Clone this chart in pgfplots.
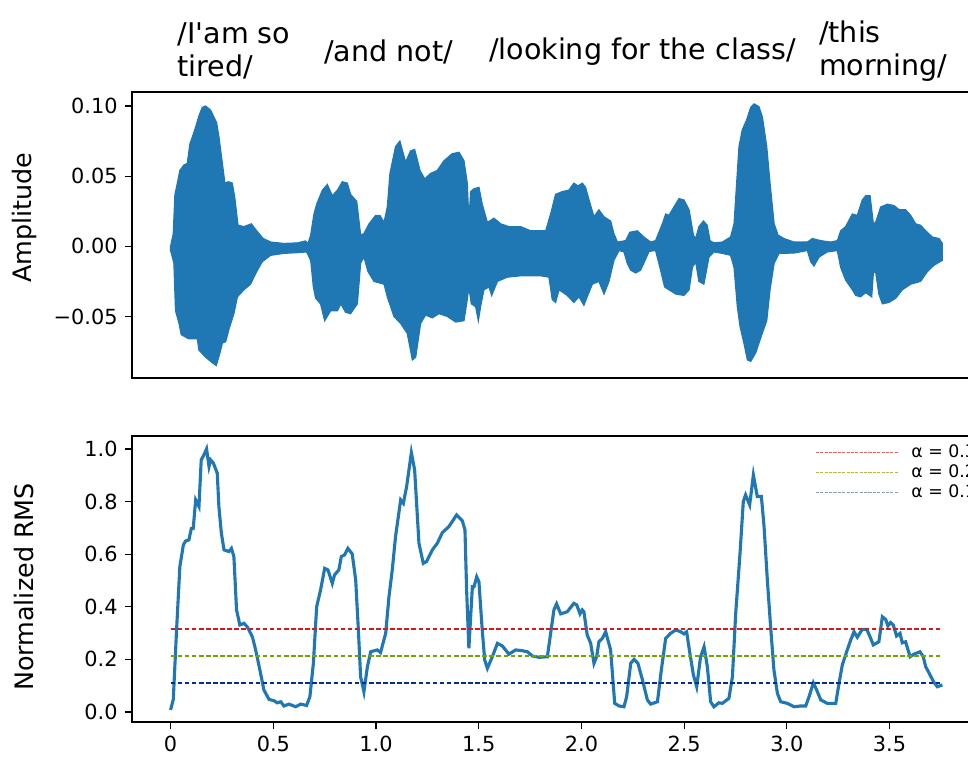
\documentclass[border=0pt]{standalone}
\usepackage{fontspec}
\setmainfont{DejaVu Sans}
\newfontfamily\plainfont{DejaVu Sans}
\usepackage{pgfplots}
\pgfplotsset{compat=1.18}
\usepgfplotslibrary{fillbetween}

\definecolor{wave}{HTML}{1F77B4}
\definecolor{thrR}{RGB}{215,25,25}
\definecolor{thrG}{RGB}{115,165,0}
\definecolor{thrB}{RGB}{0,45,150}
\definecolor{legR}{RGB}{232,95,95}
\definecolor{legG}{RGB}{180,185,60}
\definecolor{legB}{RGB}{140,158,170}

\pgfplotsset{
  panel/.style={
    scale only axis, width=407.5pt, height=137.28pt,
    anchor=south west,
    xmin=-0.188, xmax=3.945,
    axis line style={line width=0.6pt},
    tick align=outside, tick pos=left,
    major tick length=3.4pt,
    every tick/.style={black, line width=0.6pt},
    tick label style={font=\fontsize{10}{12}\selectfont},
    every axis y label/.style={rotate=90, anchor=center,
      font=\fontsize{12.2}{14}\selectfont},
  },
  thr/.style={line width=0.7pt, dash pattern=on 2.2pt off 1.2pt, forget plot},
}

\begin{document}
\begin{tikzpicture}

% waveform (envelope of the signal)
\begin{axis}[panel, at={(63.36pt,183.36pt)},
  ymin=-0.0939, ymax=0.110,
  xtick=\empty,
  ytick={-0.05,0,0.05,0.10},
  yticklabels={−0.05,0.00,0.05,0.10},
  ylabel={Amplitude},
  ylabel style={at={(axis description cs:-0.127,0.561)}},
  clip=false,
]
\addplot[name path=up, draw=none] table {
0 0
0.013 0.009
0.021 0.037
0.033 0.045
0.045 0.054
0.065 0.058
0.081 0.059
0.094 0.073
0.106 0.078
0.122 0.085
0.138 0.093
0.154 0.099
0.170 0.100
0.195 0.097
0.224 0.088
0.235 0.078
0.252 0.059
0.264 0.045
0.281 0.046
0.300 0.045
0.312 0.035
0.328 0.015
0.357 0.014
0.393 0.016
0.419 0.011
0.451 0.0055
0.487 0.003
0.552 0.002
0.617 0.0024
0.657 0.0038
0.669 0.002
0.682 0.008
0.698 0.023
0.711 0.030
0.739 0.040
0.763 0.044
0.787 0.036
0.812 0.040
0.836 0.046
0.860 0.045
0.876 0.037
0.906 0.032
0.925 0.008
0.941 0.009
0.966 0.016
0.998 0.022
1.019 0.022
1.039 0.017
1.055 0.028
1.068 0.052
1.095 0.071
1.116 0.075
1.144 0.060
1.168 0.068
1.188 0.069
1.214 0.054
1.237 0.048
1.266 0.052
1.298 0.054
1.331 0.061
1.371 0.066
1.404 0.067
1.428 0.061
1.444 0.045
1.452 0.018
1.461 0.039
1.477 0.041
1.501 0.042
1.517 0.030
1.542 0.017
1.574 0.020
1.607 0.016
1.647 0.014
1.704 0.014
1.753 0.011
1.801 0.011
1.826 0.011
1.850 0.023
1.874 0.037
1.907 0.039
1.939 0.040
1.963 0.045
1.983 0.043
2.004 0.045
2.020 0.042
2.037 0.033
2.061 0.021
2.085 0.026
2.110 0.021
2.142 0.018
2.158 0.009
2.175 0.003
2.215 0.004
2.236 0.010
2.272 0.011
2.304 0.0066
2.337 0.003
2.361 0.004
2.394 0.016
2.410 0.023
2.426 0.022
2.450 0.028
2.475 0.034
2.499 0.033
2.524 0.026
2.545 0.008
2.556 0.0055
2.572 0.014
2.594 0.018
2.612 0.015
2.626 0.004
2.645 0.0024
2.686 0.003
2.726 0.0066
2.743 0.016
2.767 0.071
2.783 0.083
2.804 0.090
2.824 0.099
2.840 0.1015
2.864 0.0996
2.881 0.092
2.902 0.071
2.918 0.045
2.938 0.016
2.957 0.008
2.986 0.0055
3.035 0.003
3.100 0.003
3.124 0.0055
3.165 0.004
3.213 0.003
3.246 0.004
3.262 0.011
3.286 0.014
3.319 0.023
3.343 0.022
3.367 0.033
3.384 0.036
3.405 0.036
3.421 0.016
3.432 0.017
3.457 0.028
3.489 0.030
3.522 0.029
3.547 0.026
3.578 0.026
3.603 0.022
3.627 0.016
3.651 0.015
3.676 0.011
3.708 0.0066
3.741 0.0055
3.757 0.002
};
\addplot[name path=lo, draw=none] table {
0 -0.003
0.016 -0.012
0.024 -0.046
0.041 -0.055
0.052 -0.063
0.089 -0.066
0.130 -0.066
0.138 -0.074
0.170 -0.079
0.203 -0.083
0.222 -0.085
0.240 -0.076
0.252 -0.069
0.268 -0.068
0.284 -0.059
0.308 -0.048
0.325 -0.036
0.357 -0.031
0.389 -0.027
0.419 -0.018
0.446 -0.011
0.487 -0.0064
0.552 -0.005
0.617 -0.0045
0.662 -0.004
0.682 -0.010
0.695 -0.029
0.706 -0.037
0.730 -0.041
0.750 -0.053
0.779 -0.046
0.812 -0.046
0.828 -0.041
0.852 -0.047
0.876 -0.048
0.909 -0.041
0.925 -0.012
0.941 -0.0076
0.961 -0.018
0.990 -0.025
1.039 -0.027
1.055 -0.036
1.087 -0.050
1.120 -0.055
1.152 -0.062
1.177 -0.081
1.193 -0.079
1.217 -0.055
1.241 -0.049
1.274 -0.051
1.306 -0.048
1.347 -0.050
1.388 -0.054
1.428 -0.053
1.441 -0.041
1.452 -0.029
1.464 -0.041
1.485 -0.043
1.498 -0.053
1.509 -0.043
1.525 -0.031
1.550 -0.029
1.563 -0.035
1.591 -0.025
1.639 -0.022
1.704 -0.021
1.769 -0.021
1.801 -0.021
1.842 -0.022
1.858 -0.038
1.874 -0.040
1.891 -0.031
1.931 -0.035
1.963 -0.040
1.988 -0.036
2.012 -0.042
2.028 -0.036
2.053 -0.027
2.085 -0.025
2.110 -0.034
2.134 -0.025
2.158 -0.010
2.183 -0.003
2.207 -0.004
2.223 -0.012
2.240 -0.017
2.264 -0.019
2.288 -0.017
2.313 -0.009
2.329 -0.0036
2.361 -0.003
2.382 -0.015
2.405 -0.029
2.426 -0.031
2.459 -0.034
2.499 -0.035
2.524 -0.031
2.540 -0.015
2.556 -0.011
2.572 -0.025
2.596 -0.027
2.621 -0.0076
2.645 -0.004
2.686 -0.005
2.726 -0.0064
2.743 -0.015
2.759 -0.043
2.772 -0.057
2.791 -0.069
2.808 -0.081
2.824 -0.082
2.848 -0.076
2.873 -0.065
2.902 -0.053
2.918 -0.031
2.938 -0.012
2.962 -0.005
3.035 -0.0048
3.100 -0.003
3.116 -0.011
3.132 -0.014
3.157 -0.0076
3.197 -0.004
3.246 -0.003
3.262 -0.015
3.286 -0.024
3.319 -0.031
3.335 -0.035
3.359 -0.036
3.384 -0.033
3.413 -0.036
3.421 -0.019
3.432 -0.018
3.448 -0.034
3.465 -0.041
3.497 -0.040
3.530 -0.037
3.562 -0.031
3.603 -0.027
3.651 -0.025
3.684 -0.018
3.716 -0.0135
3.757 -0.010
};
\addplot[fill=wave, draw=wave, line width=0.6pt] fill between[of=up and lo];

\begin{scope}[every node/.style={anchor=west, align=left, inner sep=0pt,
    font=\plainfont\fontsize{13.7}{15.6}\selectfont}]
  \node at (axis cs:0.0326,0.1392) {/I'am so\\tired/};
  \node at (axis cs:0.745,0.1387) {/and not/};
  \node at (axis cs:1.548,0.1387) {/looking for the class/};
  \node at (axis cs:3.155,0.1392) {/this\\morning/};
\end{scope}
\end{axis}

% normalised RMS with thresholds
\begin{axis}[panel, at={(63.36pt,18.24pt)},
  ymin=-0.038, ymax=1.049,
  xtick={0,0.5,1,1.5,2,2.5,3,3.5},
  xticklabels={0,0.5,1.0,1.5,2.0,2.5,3.0,3.5},
  ytick={0,0.2,0.4,0.6,0.8,1.0},
  yticklabels={0.0,0.2,0.4,0.6,0.8,1.0},
  ylabel={Normalized RMS},
  ylabel style={at={(axis description cs:-0.127,0.472)}},
  legend style={draw=none, fill=none, inner sep=0pt,
    at={(0.8045,0.972)}, anchor=north west,
    font=\fontsize{8.3}{9.5}\selectfont,
    nodes={inner sep=0pt, text height=6.1pt, text depth=1.5pt},
    row sep=2pt, column sep=5.8pt},
  legend cell align=left,
  legend image code/.code={\draw[#1] (0pt,0pt) -- (39.8pt,0pt);},
]
\addplot[wave, line width=1.5pt, forget plot] table {
0 0.008
0.013 0.048
0.029 0.312
0.045 0.553
0.062 0.635
0.073 0.650
0.089 0.654
0.101 0.698
0.110 0.698
0.122 0.806
0.138 0.781
0.149 0.958
0.162 0.977
0.175 1.000
0.187 0.933
0.195 0.958
0.208 0.946
0.227 0.908
0.235 0.781
0.247 0.680
0.260 0.616
0.284 0.610
0.296 0.622
0.308 0.591
0.321 0.388
0.337 0.331
0.357 0.337
0.373 0.324
0.398 0.286
0.414 0.236
0.438 0.147
0.454 0.084
0.479 0.048
0.503 0.043
0.519 0.035
0.536 0.039
0.552 0.023
0.576 0.030
0.609 0.020
0.633 0.030
0.662 0.025
0.678 0.058
0.695 0.185
0.711 0.400
0.730 0.464
0.750 0.546
0.766 0.540
0.787 0.489
0.798 0.521
0.819 0.540
0.831 0.591
0.847 0.597
0.863 0.622
0.884 0.601
0.901 0.502
0.914 0.312
0.925 0.134
0.941 0.077
0.958 0.172
0.974 0.229
1.006 0.236
1.022 0.226
1.047 0.299
1.063 0.438
1.079 0.540
1.095 0.667
1.120 0.806
1.133 0.793
1.149 0.857
1.172 0.986
1.188 0.920
1.209 0.641
1.230 0.565
1.246 0.572
1.274 0.616
1.298 0.641
1.323 0.682
1.355 0.705
1.392 0.749
1.420 0.727
1.433 0.692
1.441 0.464
1.452 0.242
1.469 0.476
1.477 0.476
1.490 0.514
1.501 0.495
1.517 0.312
1.529 0.198
1.542 0.166
1.566 0.210
1.591 0.261
1.615 0.251
1.647 0.220
1.680 0.236
1.712 0.233
1.737 0.229
1.761 0.213
1.793 0.208
1.834 0.210
1.850 0.299
1.866 0.388
1.879 0.411
1.899 0.373
1.931 0.381
1.963 0.413
1.977 0.407
1.993 0.373
2.004 0.388
2.012 0.381
2.028 0.293
2.045 0.261
2.061 0.185
2.074 0.210
2.085 0.267
2.102 0.280
2.118 0.305
2.142 0.236
2.162 0.033
2.183 0.023
2.207 0.020
2.220 0.058
2.240 0.185
2.256 0.200
2.275 0.185
2.297 0.122
2.321 0.046
2.337 0.030
2.370 0.039
2.389 0.160
2.410 0.280
2.434 0.299
2.459 0.312
2.483 0.305
2.499 0.297
2.512 0.305
2.528 0.223
2.545 0.141
2.561 0.096
2.580 0.210
2.597 0.248
2.613 0.172
2.629 0.039
2.645 0.020
2.669 0.035
2.686 0.033
2.718 0.052
2.735 0.134
2.751 0.375
2.772 0.603
2.788 0.800
2.799 0.825
2.819 0.787
2.837 0.901
2.856 0.819
2.876 0.819
2.889 0.705
2.905 0.502
2.921 0.324
2.937 0.160
2.954 0.071
2.970 0.039
3.002 0.033
3.035 0.020
3.067 0.023
3.092 0.023
3.108 0.058
3.129 0.111
3.145 0.084
3.165 0.046
3.197 0.033
3.238 0.033
3.254 0.109
3.270 0.179
3.291 0.229
3.311 0.274
3.327 0.305
3.343 0.284
3.367 0.314
3.389 0.314
3.405 0.286
3.421 0.255
3.448 0.267
3.465 0.362
3.481 0.352
3.492 0.327
3.505 0.340
3.518 0.331
3.534 0.289
3.551 0.299
3.562 0.263
3.578 0.267
3.600 0.210
3.619 0.220
3.648 0.229
3.664 0.210
3.676 0.172
3.692 0.149
3.714 0.115
3.733 0.096
3.757 0.103
};
\addplot[thr, thrR] coordinates {(0,0.315) (3.757,0.315)};
\addplot[thr, thrG] coordinates {(0,0.213) (3.757,0.213)};
\addplot[thr, thrB] coordinates {(0,0.110) (3.757,0.110)};
\addlegendimage{legR, line width=0.5pt, dash pattern=on 1.5pt off 0.6pt}
\addlegendentry{α = 0.3}
\addlegendimage{legG, line width=0.5pt, dash pattern=on 1.5pt off 0.6pt}
\addlegendentry{α = 0.2}
\addlegendimage{legB, line width=0.5pt, dash pattern=on 1.5pt off 0.6pt}
\addlegendentry{α = 0.1}
\end{axis}

\pgfresetboundingbox
\path[use as bounding box] (0,0) rectangle (464.64pt,364.8pt);
\end{tikzpicture}
\end{document}
